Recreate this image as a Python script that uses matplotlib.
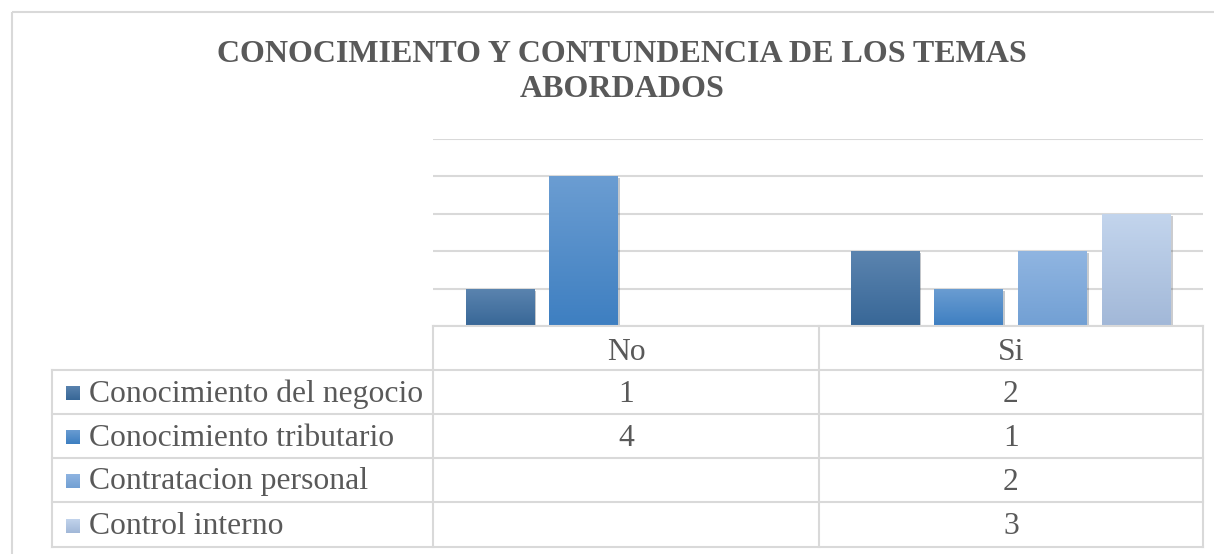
import numpy as np
import matplotlib.pyplot as plt
from matplotlib.colors import LinearSegmentedColormap
import matplotlib.patheffects as pe

# datos
categorias = ['No', 'Si']
series = ['Conocimiento del negocio', 'Conocimiento tributario',
          'Contratacion personal', 'Control interno']
valores = [
    [1, 2],
    [4, 1],
    [np.nan, 2],
    [np.nan, 3],
]
titulo = 'CONOCIMIENTO Y CONTUNDENCIA DE LOS TEMAS\nABORDADOS'

# colores degradados (arriba, abajo)
grad = [('#5b84af', '#386797'),
        ('#6b9dd2', '#3e7fc1'),
        ('#90b5e1', '#72a0d4'),
        ('#c3d5ed', '#a2b8d8')]

W, H = 1214, 554
fig = plt.figure(figsize=(W / 100, H / 100), dpi=100)
plt.rcParams['font.family'] = ['Liberation Serif', 'DejaVu Serif']
gris = '#595959'
linea = '#d9d9d9'

def fx(px):
    return px / W

def fy(py):
    return 1 - py / H

# borde del area del grafico (solo arriba e izquierda visibles)
bkw = dict(transform=fig.transFigure, color=linea, lw=1.5, solid_capstyle='butt')
fig.add_artist(plt.Line2D([fx(12), fx(1214)], [fy(12), fy(12)], **bkw))
fig.add_artist(plt.Line2D([fx(12), fx(12)], [fy(12), fy(554)], **bkw))

ax = fig.add_axes([fx(433), fy(326), fx(1203) - fx(433), fy(139) - fy(326)])
x = np.arange(len(categorias))
ancho = 0.177
paso = 0.218
for i, (nombre, vals) in enumerate(zip(series, valores)):
    desp = (i - 1.5) * paso
    barras = ax.bar(x + desp, vals, ancho, color=grad[i][1], zorder=3,
                    path_effects=[pe.SimplePatchShadow(offset=(1.5, -1.5), alpha=0.25),
                                  pe.Normal()])
    cmap = LinearSegmentedColormap.from_list('g%d' % i, [grad[i][1], grad[i][0]])
    for b in barras:
        if np.isnan(b.get_height()) or b.get_height() == 0:
            continue
        x0, y0 = b.get_x(), b.get_y()
        im = ax.imshow(np.linspace(0, 1, 100).reshape(-1, 1), cmap=cmap,
                       extent=[x0, x0 + b.get_width(), y0, y0 + b.get_height()],
                       origin='lower', aspect='auto', zorder=4)
        im.set_clip_path(b)

ax.set_xlim(-0.5, len(categorias) - 0.5)
ax.set_ylim(0, 5)
ax.set_yticks(np.arange(0, 6))
ax.grid(axis='y', color=linea, lw=1.5, zorder=0)
ax.tick_params(left=False, bottom=False, labelleft=False, labelbottom=False)
for s in ax.spines.values():
    s.set_visible(False)

# tabla de datos
filas_y = [326, 370, 414, 458, 502, 547]
cols_x = [52, 433, 819, 1203]
lkw = dict(transform=fig.transFigure, color=linea, lw=1.5)
fig.add_artist(plt.Line2D([fx(433), fx(1203)], [fy(326), fy(326)], **lkw))
for yy in filas_y[1:]:
    fig.add_artist(plt.Line2D([fx(52), fx(1203)], [fy(yy), fy(yy)], **lkw))
for xx in cols_x:
    top = 370 if xx == 52 else 326
    fig.add_artist(plt.Line2D([fx(xx), fx(xx)], [fy(top), fy(547)], **lkw))

fs = 22.8
for j, c in enumerate(categorias):
    xc = fx((cols_x[j + 1] + cols_x[j + 2]) / 2)
    fig.text(xc, fy(352), c, ha='center', va='center', fontsize=fs, color=gris)
for i, nombre in enumerate(series):
    ycell = (filas_y[i + 1] + filas_y[i + 2]) / 2
    yc = fy(ycell + 2)
    kmap = LinearSegmentedColormap.from_list('k%d' % i, [grad[i][1], grad[i][0]])
    kax = fig.add_axes([fx(66), fy(ycell + 8), fx(14), fy(0) - fy(14)])
    kax.imshow(np.linspace(0, 1, 20).reshape(-1, 1), cmap=kmap, origin='lower',
               aspect='auto')
    kax.axis('off')
    fig.text(fx(89), yc, nombre, ha='left', va='center', fontsize=fs, color=gris)
    for j, v in enumerate(valores[i]):
        if np.isnan(v):
            continue
        xc = fx((cols_x[j + 1] + cols_x[j + 2]) / 2)
        fig.text(xc, yc, '%d' % v, ha='center', va='center', fontsize=fs, color=gris)

fig.text(fx(622), fy(72), titulo, ha='center', va='center', fontsize=23,
         fontweight='bold', color=gris, linespacing=1.3)

fig.savefig('out.png', dpi=100)
